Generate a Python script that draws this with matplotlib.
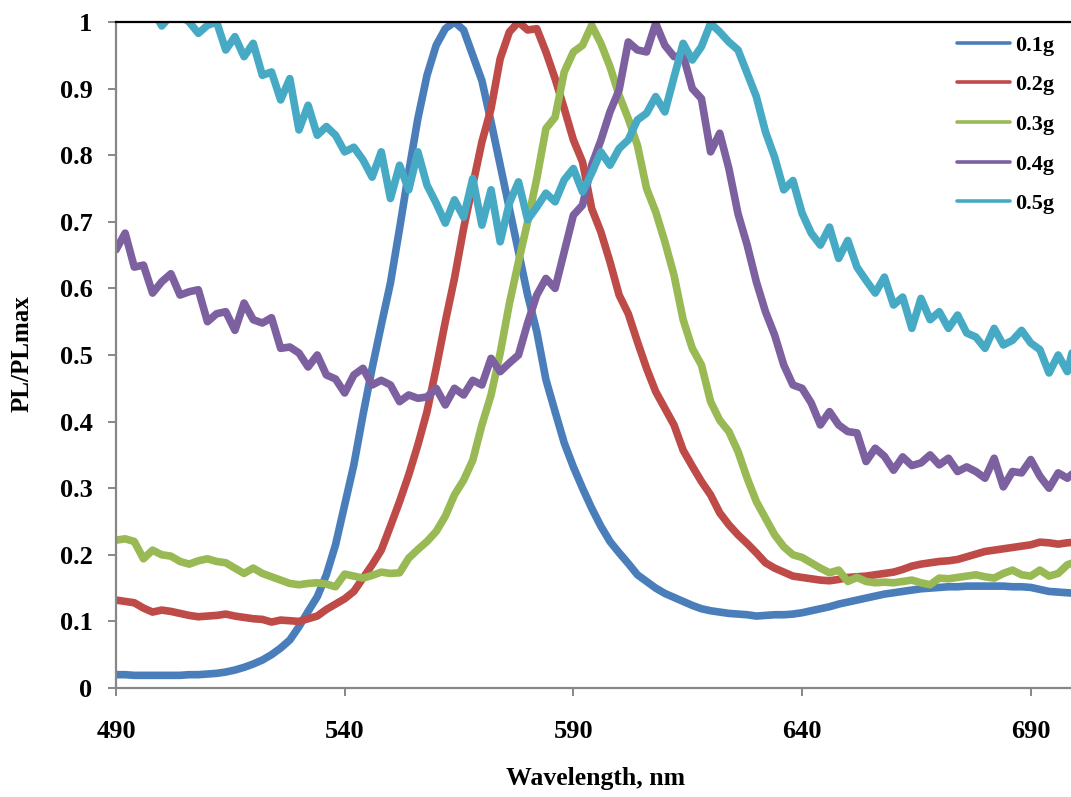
import numpy as np
import matplotlib
matplotlib.use("Agg")
import matplotlib.pyplot as plt

plt.rcParams["font.family"] = ["Liberation Serif", "DejaVu Serif"]
plt.rcParams["font.weight"] = "bold"

# Wavelength grid, nm
wavelength = np.arange(490, 701, 2)

pl_01g = [
    0.020, 0.020, 0.019, 0.019, 0.019, 0.019, 0.019, 0.019, 0.020, 0.020,
    0.021, 0.022, 0.024, 0.027, 0.031, 0.036, 0.042, 0.050, 0.060, 0.072,
    0.092, 0.115, 0.137, 0.170, 0.215, 0.275, 0.335, 0.410, 0.480, 0.545,
    0.608, 0.690, 0.775, 0.855, 0.920, 0.965, 0.990, 1.000, 0.988, 0.950,
    0.912, 0.850, 0.785, 0.720, 0.655, 0.590, 0.535, 0.463, 0.415, 0.368,
    0.332, 0.300, 0.270, 0.243, 0.220, 0.203, 0.187, 0.170, 0.160, 0.150,
    0.142, 0.136, 0.130, 0.124, 0.119, 0.116, 0.114, 0.112, 0.111, 0.110,
    0.108, 0.109, 0.110, 0.110, 0.111, 0.113, 0.116, 0.119, 0.122, 0.126,
    0.129, 0.132, 0.135, 0.138, 0.141, 0.143, 0.145, 0.147, 0.149, 0.150,
    0.151, 0.152, 0.152, 0.153, 0.153, 0.153, 0.153, 0.153, 0.152, 0.152,
    0.151, 0.148, 0.145, 0.144, 0.143, 0.142,
]

pl_02g = [
    0.132, 0.130, 0.128, 0.120, 0.114, 0.117, 0.115, 0.112, 0.109, 0.107,
    0.108, 0.109, 0.111, 0.108, 0.106, 0.104, 0.103, 0.099, 0.102, 0.101,
    0.100, 0.104, 0.108, 0.118, 0.126, 0.134, 0.145, 0.165, 0.185, 0.207,
    0.243, 0.280, 0.320, 0.365, 0.415, 0.480, 0.550, 0.615, 0.690, 0.755,
    0.820, 0.870, 0.945, 0.985, 1.000, 0.988, 0.990, 0.955, 0.915, 0.870,
    0.823, 0.790, 0.720, 0.685, 0.640, 0.590, 0.562, 0.520, 0.480, 0.445,
    0.420, 0.395, 0.357, 0.333, 0.310, 0.290, 0.263, 0.245, 0.230, 0.217,
    0.203, 0.188, 0.180, 0.174, 0.168, 0.166, 0.164, 0.162, 0.161, 0.163,
    0.166, 0.167, 0.168, 0.170, 0.172, 0.174, 0.178, 0.183, 0.186, 0.188,
    0.190, 0.191, 0.193, 0.197, 0.201, 0.205, 0.207, 0.209, 0.211, 0.213,
    0.215, 0.219, 0.218, 0.216, 0.218, 0.219,
]

pl_03g = [
    0.222, 0.224, 0.220, 0.194, 0.207, 0.200, 0.198, 0.190, 0.186, 0.191,
    0.194, 0.190, 0.188, 0.180, 0.172, 0.180, 0.172, 0.167, 0.162, 0.157,
    0.155, 0.157, 0.158, 0.156, 0.152, 0.171, 0.168, 0.165, 0.169, 0.174,
    0.172, 0.173, 0.195, 0.208, 0.220, 0.235, 0.258, 0.290, 0.312, 0.342,
    0.395, 0.440, 0.503, 0.577, 0.640, 0.700, 0.765, 0.840, 0.857, 0.925,
    0.955, 0.965, 0.995, 0.968, 0.933, 0.890, 0.855, 0.815, 0.750, 0.715,
    0.670, 0.620, 0.553, 0.510, 0.485, 0.430, 0.402, 0.385, 0.355, 0.315,
    0.280, 0.255, 0.230, 0.212, 0.200, 0.196, 0.188, 0.180, 0.173, 0.177,
    0.160, 0.166, 0.160, 0.158, 0.159, 0.158, 0.160, 0.162, 0.158, 0.155,
    0.165, 0.164, 0.166, 0.168, 0.170, 0.167, 0.165, 0.172, 0.177, 0.170,
    0.168, 0.177, 0.168, 0.172, 0.185, 0.190,
]

pl_04g = [
    0.658, 0.683, 0.632, 0.635, 0.593, 0.610, 0.622, 0.590, 0.595, 0.598,
    0.550, 0.562, 0.565, 0.537, 0.578, 0.553, 0.548, 0.556, 0.510, 0.512,
    0.503, 0.482, 0.500, 0.470, 0.464, 0.443, 0.470, 0.480, 0.455, 0.462,
    0.455, 0.430, 0.440, 0.435, 0.437, 0.450, 0.425, 0.450, 0.440, 0.462,
    0.455, 0.495, 0.475, 0.488, 0.500, 0.548, 0.590, 0.615, 0.600, 0.655,
    0.710, 0.725, 0.785, 0.822, 0.865, 0.898, 0.970, 0.958, 0.955, 0.998,
    0.965, 0.948, 0.950, 0.900, 0.885, 0.805, 0.833, 0.780, 0.712, 0.665,
    0.610, 0.565, 0.530, 0.485, 0.455, 0.450, 0.428, 0.395, 0.415, 0.395,
    0.385, 0.383, 0.340, 0.360, 0.348, 0.327, 0.347, 0.334, 0.338, 0.350,
    0.335, 0.345, 0.325, 0.332, 0.325, 0.315, 0.345, 0.302, 0.325, 0.323,
    0.343, 0.318, 0.300, 0.323, 0.315, 0.327,
]

pl_05g = [
    1.050, 1.040, 1.030, 1.030, 1.020, 0.994, 1.010, 1.010, 1.000, 0.983,
    0.995, 1.000, 0.958, 0.978, 0.948, 0.968, 0.920, 0.925, 0.883, 0.915,
    0.838, 0.875, 0.830, 0.843, 0.830, 0.805, 0.812, 0.793, 0.767, 0.805,
    0.735, 0.785, 0.748, 0.805, 0.755, 0.728, 0.698, 0.733, 0.707, 0.765,
    0.695, 0.748, 0.670, 0.728, 0.760, 0.703, 0.722, 0.743, 0.730, 0.763,
    0.780, 0.745, 0.773, 0.805, 0.785, 0.810, 0.823, 0.853, 0.863, 0.888,
    0.865, 0.917, 0.968, 0.943, 0.963, 0.998, 0.985, 0.970, 0.958, 0.923,
    0.888, 0.835, 0.797, 0.748, 0.762, 0.713, 0.683, 0.665, 0.692, 0.645,
    0.672, 0.632, 0.612, 0.593, 0.617, 0.575, 0.587, 0.540, 0.585, 0.553,
    0.565, 0.540, 0.560, 0.533, 0.527, 0.510, 0.540, 0.515, 0.522, 0.537,
    0.518, 0.508, 0.473, 0.500, 0.475, 0.530,
]

series_labels = ["0.1g", "0.2g", "0.3g", "0.4g", "0.5g"]
series_colors = ["#4A7EBB", "#BE4B48", "#98B954", "#7D60A0", "#46AAC5"]
x_ticks = [490, 540, 590, 640, 690]
y_ticks = [0, 0.1, 0.2, 0.3, 0.4, 0.5, 0.6, 0.7, 0.8, 0.9, 1.0]
y_tick_labels = ["0", "0.1", "0.2", "0.3", "0.4", "0.5", "0.6", "0.7", "0.8", "0.9", "1"]

W, H = 1071, 797
fig = plt.figure(figsize=(W / 100, H / 100), dpi=100)
ax = fig.add_axes([116 / W, 1 - 688 / H, 955 / W, 666 / H])

for vals, lab, col in zip([pl_01g, pl_02g, pl_03g, pl_04g, pl_05g], series_labels, series_colors):
    ax.plot(wavelength, vals, color=col, lw=5.5, label=lab,
            solid_joinstyle="round", solid_capstyle="round")

ax.set_xlim(490, 698.8)
ax.set_ylim(0, 1)
ax.set_xticks(x_ticks)
ax.set_yticks(y_ticks)
ax.set_yticklabels(y_tick_labels)

axis_gray = "#878787"
for side in ("left", "bottom"):
    ax.spines[side].set_color(axis_gray)
    ax.spines[side].set_linewidth(1.6)
ax.spines["right"].set_visible(False)
ax.spines["top"].set_color("black")
ax.spines["top"].set_linewidth(1.6)

ax.tick_params(axis="x", direction="out", length=6, width=1.4, color=axis_gray,
               pad=17, labelsize=19)
ax.tick_params(axis="y", direction="out", length=6, width=1.4, color=axis_gray,
               pad=11, labelsize=19)
for t in ax.get_xticklabels() + ax.get_yticklabels():
    t.set_fontweight("bold")

fig.text(22 / W, 1 - 354 / H, "PL/PLmax", rotation=90, ha="center", va="center",
         fontsize=18, fontweight="bold")
fig.text(595 / W, 1 - 779 / H, "Wavelength, nm", ha="center", va="center",
         fontsize=18.5, fontweight="bold")

leg = ax.legend(loc="upper left", bbox_to_anchor=(957 / W, 1 - 35 / H),
                bbox_transform=fig.transFigure, frameon=False,
                prop={"family": "Liberation Serif", "weight": "bold", "size": 16},
                handlelength=2.4, handletextpad=0.2, labelspacing=0.86,
                borderpad=0, borderaxespad=0)
for ln in leg.get_lines():
    ln.set_linewidth(2.6)

fig.savefig("out.png", dpi=100)
